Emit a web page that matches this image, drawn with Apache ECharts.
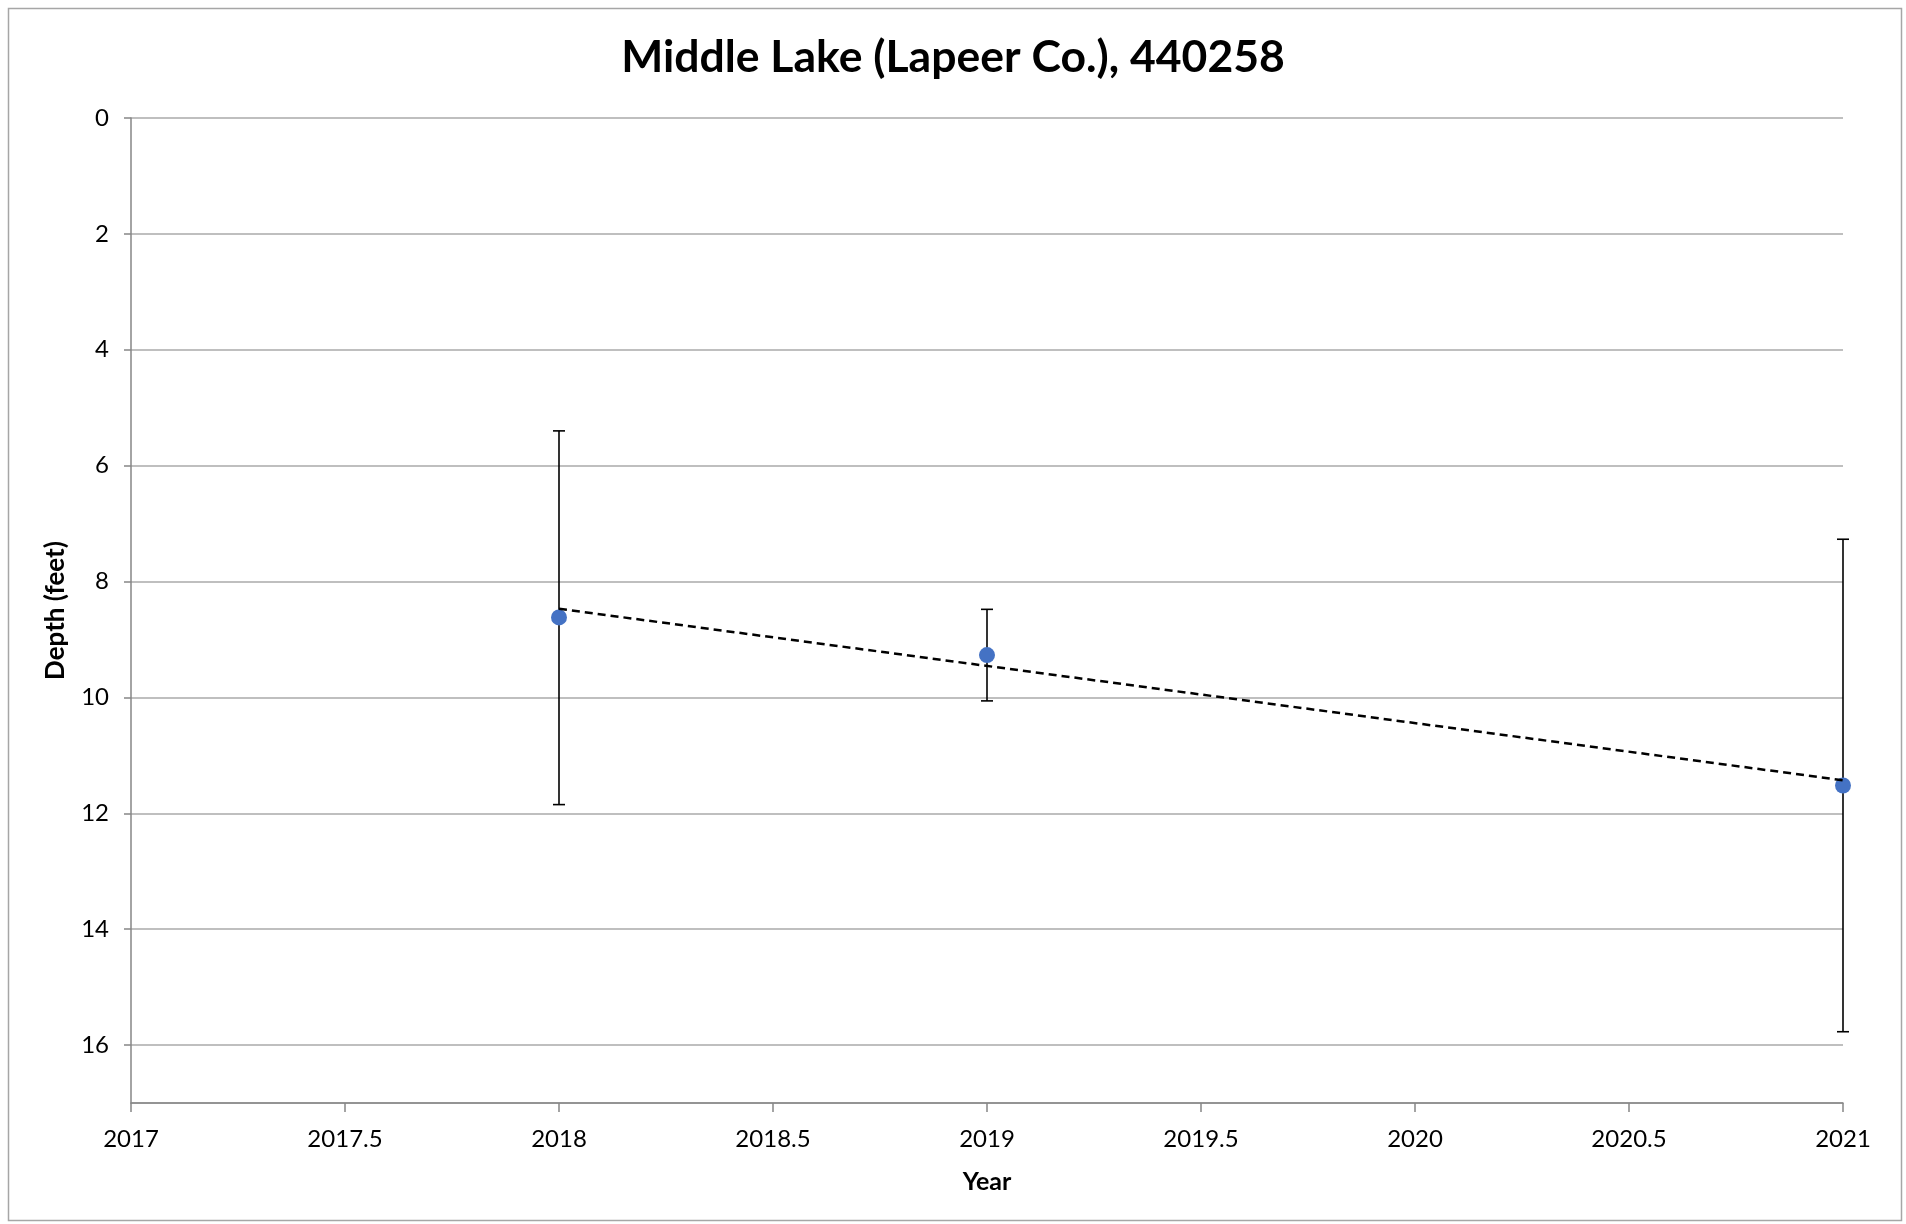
<!DOCTYPE html>
<html>
<head>
<meta charset="utf-8">
<script src="https://cdn.jsdelivr.net/npm/echarts@6/dist/echarts.min.js"></script>
<style>
html,body{margin:0;padding:0;background:#fff;}
#chart{width:1906px;height:1224px;}
</style>
</head>
<body>
<div id="chart"></div>
<script>
// Data
const years = [2018, 2019, 2021];
const depthMean = [8.62, 9.27, 11.52];
const depthLow = [5.40, 8.48, 7.27];
const depthHigh = [11.85, 10.06, 15.77];
const trendYears = [2018, 2021];
const trendDepth = [8.47, 11.43];
const titleText = 'Middle Lake (Lapeer Co.), 440258';
const xName = 'Year';
const yName = 'Depth (feet)';

const FONT = 'Lato, "Open Sans", sans-serif';

const pointData = years.map((y, i) => [y, depthMean[i]]);
const errData = years.map((y, i) => [y, depthLow[i], depthHigh[i]]);
const trendData = trendYears.map((y, i) => [y, trendDepth[i]]);

const chart = echarts.init(document.getElementById('chart'), null, {renderer: 'canvas'});
chart.setOption({
  backgroundColor: '#ffffff',
  animation: false,
  graphic: [{
    type: 'rect',
    left: 6, top: 6,
    shape: {width: 1893, height: 1212},
    style: {fill: 'none', stroke: '#A6A6A6', lineWidth: 1.5},
    silent: true
  }],
  title: {
    text: titleText,
    left: 'center',
    top: 30,
    textStyle: {fontFamily: FONT, fontWeight: 'bold', fontSize: 44.5, color: '#000'}
  },
  grid: {left: 131, right: 63, top: 118, bottom: 121, containLabel: false},
  xAxis: {
    type: 'value',
    min: 2017, max: 2021, interval: 0.5,
    name: xName,
    nameLocation: 'middle',
    nameGap: 66,
    nameTextStyle: {fontFamily: FONT, fontWeight: 'bold', fontSize: 25, color: '#000'},
    axisLine: {show: true, onZero: false, lineStyle: {color: '#868686', width: 1.5}},
    axisTick: {show: true, length: 9, lineStyle: {color: '#868686', width: 1.5}},
    axisLabel: {fontFamily: FONT, fontSize: 24, color: '#000', margin: 24,
      formatter: v => String(v)},
    splitLine: {show: false}
  },
  yAxis: {
    type: 'value',
    inverse: true,
    min: 0, max: 17, interval: 2,
    name: yName,
    nameLocation: 'middle',
    nameGap: 62,
    nameRotate: 90,
    nameTextStyle: {fontFamily: FONT, fontWeight: 'bold', fontSize: 26, color: '#000'},
    axisLine: {show: true, onZero: false, lineStyle: {color: '#868686', width: 1.5}},
    axisTick: {show: true, length: 7, lineStyle: {color: '#868686', width: 1.5}},
    axisLabel: {
      fontFamily: FONT, fontSize: 24, color: '#000', margin: 22,
      showMaxLabel: false,
      formatter: v => (v % 2 === 0 ? String(v) : '')
    },
    splitLine: {show: true, lineStyle: {color: '#BFBFBF', width: 2.2}}
  },
  series: [
    {
      type: 'custom',
      name: 'error',
      z: 2,
      data: errData,
      renderItem: function (params, api) {
        const x = api.value(0);
        const top = api.coord([x, api.value(1)]);
        const bot = api.coord([x, api.value(2)]);
        const cap = 6;
        const st = {stroke: '#000', lineWidth: 1.6};
        return {
          type: 'group',
          children: [
            {type: 'line', shape: {x1: top[0], y1: top[1], x2: bot[0], y2: bot[1]}, style: st},
            {type: 'line', shape: {x1: top[0] - cap, y1: top[1], x2: top[0] + cap, y2: top[1]}, style: st},
            {type: 'line', shape: {x1: bot[0] - cap, y1: bot[1], x2: bot[0] + cap, y2: bot[1]}, style: st}
          ]
        };
      }
    },
    {
      type: 'scatter',
      name: 'Depth',
      z: 3,
      symbol: 'circle',
      symbolSize: 16,
      itemStyle: {color: '#4472C4', opacity: 1},
      data: pointData
    },
    {
      type: 'line',
      name: 'Trend',
      z: 4,
      showSymbol: false,
      symbol: 'none',
      lineStyle: {color: '#000', width: 2.5, type: [8, 5]},
      data: trendData
    }
  ]
});
</script>
</body>
</html>
